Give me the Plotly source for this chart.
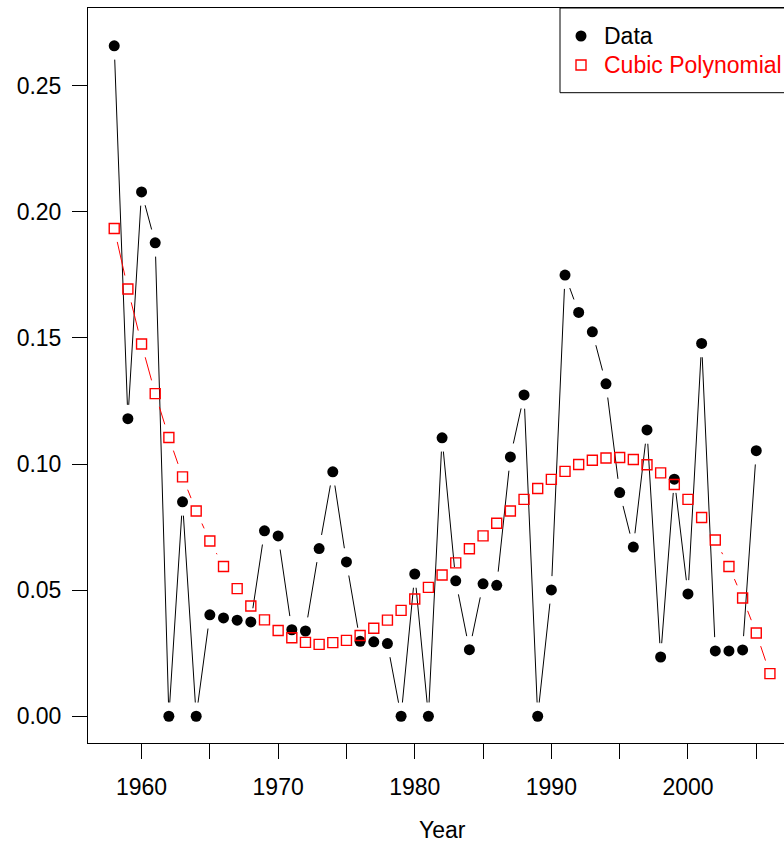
import math
import plotly.graph_objects as go

# ---- data ----
data_years = list(range(1958, 2006))
data_values = [0.2658, 0.1180, 0.2079, 0.1877, 0.0, 0.0850, 0.0, 0.0402, 0.0390, 0.0381,
               0.0374, 0.0735, 0.0715, 0.0343, 0.0338, 0.0665, 0.0969, 0.0612, 0.0297, 0.0295,
               0.0288, 0.0, 0.0564, 0.0, 0.1104, 0.0537, 0.0264, 0.0525, 0.0519, 0.1028,
               0.1274, 0.0, 0.0501, 0.1749, 0.1601, 0.1524, 0.1318, 0.0887, 0.0671, 0.1135,
               0.0235, 0.0940, 0.0485, 0.1478, 0.0259, 0.0259, 0.0263, 0.1053]
poly_years = list(range(1958, 2007))
poly_values = [0.1934, 0.1694, 0.1476, 0.1279, 0.1105, 0.0949, 0.0814, 0.0695, 0.0594, 0.0506,
               0.0437, 0.0382, 0.0340, 0.0311, 0.0293, 0.0285, 0.0292, 0.0301, 0.0320, 0.0349,
               0.0381, 0.0420, 0.0465, 0.0511, 0.0560, 0.0608, 0.0664, 0.0715, 0.0765, 0.0814,
               0.0860, 0.0903, 0.0939, 0.0971, 0.0998, 0.1015, 0.1024, 0.1026, 0.1018, 0.0997,
               0.0965, 0.0919, 0.0860, 0.0788, 0.0699, 0.0594, 0.0469, 0.0330, 0.0169]
x_tick_vals = [1960, 1965, 1970, 1975, 1980, 1985, 1990, 1995, 2000, 2005]
x_tick_text = ["1960", "", "1970", "", "1980", "", "1990", "", "2000", ""]
y_tick_vals = [0.00, 0.05, 0.10, 0.15, 0.20, 0.25]
y_tick_text = ["0.00", "0.05", "0.10", "0.15", "0.20", "0.25"]
legend_labels = ["Data", "Cubic Polynomial"]

# ---- layout geometry ----
W, H = 784, 844
ML, MR, MT, MB = 88, 0, 8, 101
XR = [1956.08, 2007.03]
YR = [-0.0106, 0.2808]
PW, PH = W - ML - MR, H - MT - MB
kx = PW / (XR[1] - XR[0])
ky = PH / (YR[1] - YR[0])
GAP = 13.8  # px gap around points (R type="b")


def gapped(xs, ys, gap=GAP):
    ox, oy = [], []
    for i in range(len(xs) - 1):
        dxp = (xs[i + 1] - xs[i]) * kx
        dyp = (ys[i + 1] - ys[i]) * ky
        d = math.hypot(dxp, dyp)
        if d <= 2 * gap:
            continue
        f = gap / d
        ox += [xs[i] + f * (xs[i + 1] - xs[i]), xs[i + 1] - f * (xs[i + 1] - xs[i]), None]
        oy += [ys[i] + f * (ys[i + 1] - ys[i]), ys[i + 1] - f * (ys[i + 1] - ys[i]), None]
    return ox, oy


FONT = "Liberation Sans, Arial, Helvetica, sans-serif"
fig = go.Figure()

lx, ly = gapped(data_years, data_values)
fig.add_trace(go.Scatter(x=lx, y=ly, mode="lines", line=dict(color="black", width=1),
                         hoverinfo="skip", showlegend=False))
px_, py_ = gapped(poly_years, poly_values)
fig.add_trace(go.Scatter(x=px_, y=py_, mode="lines", line=dict(color="#FF0000", width=1),
                         hoverinfo="skip", showlegend=False))
fig.add_trace(go.Scatter(x=data_years, y=data_values, mode="markers", name=legend_labels[0],
                         marker=dict(symbol="circle", size=11, color="black"),
                         showlegend=False, cliponaxis=False))
fig.add_trace(go.Scatter(x=poly_years, y=poly_values, mode="markers", name=legend_labels[1],
                         marker=dict(symbol="square-open", size=10, color="#FF0000",
                                     line=dict(color="#FF0000", width=1.4)),
                         showlegend=False, cliponaxis=False))


def pxx(p):
    return (p - ML) / PW


def pxy(p):
    return (MT + PH - p) / PH


# manual legend (cut off by the window edge as in the reference)
fig.add_shape(type="rect", xref="paper", yref="paper", x0=pxx(560), x1=1.1,
              y0=pxy(92.7), y1=1.0, line=dict(color="black", width=1), fillcolor="white",
              layer="above")
fig.add_shape(type="circle", xref="paper", yref="paper", xsizemode="pixel", ysizemode="pixel",
              xanchor=pxx(581), yanchor=pxy(36), x0=-5.5, x1=5.5, y0=-5.5, y1=5.5,
              fillcolor="black", line=dict(color="black", width=0), layer="above")
fig.add_shape(type="rect", xref="paper", yref="paper", xsizemode="pixel", ysizemode="pixel",
              xanchor=pxx(581), yanchor=pxy(65), x0=-5, x1=5, y0=-5, y1=5,
              fillcolor="rgba(0,0,0,0)", line=dict(color="#FF0000", width=1.4), layer="above")
fig.add_annotation(xref="paper", yref="paper", x=pxx(602), y=pxy(36), text=legend_labels[0],
                   showarrow=False, xanchor="left", yanchor="middle",
                   font=dict(family=FONT, size=23, color="black"))
fig.add_annotation(xref="paper", yref="paper", x=pxx(602), y=pxy(65), text=legend_labels[1],
                   showarrow=False, xanchor="left", yanchor="middle",
                   font=dict(family=FONT, size=23, color="#FF0000"))

# x-axis title centred on the full plot region
fig.add_annotation(xref="x", yref="paper", x=(XR[0] + 2007.92) / 2, y=pxy(830), text="Year",
                   showarrow=False, xanchor="center", yanchor="middle",
                   font=dict(family=FONT, size=23, color="black"))

fig.update_layout(
    width=W, height=H, margin=dict(l=ML, r=MR, t=MT, b=MB, pad=0),
    paper_bgcolor="white", plot_bgcolor="white",
    font=dict(family=FONT, size=23, color="black"),
    showlegend=False,
    xaxis=dict(range=XR, tickmode="array", tickvals=x_tick_vals, ticktext=x_tick_text,
               ticks="outside", ticklen=15, tickwidth=1, tickcolor="black",
               showline=True, linecolor="black", linewidth=1, mirror=True,
               showgrid=False, zeroline=False, ticklabelstandoff=8),
    yaxis=dict(range=YR, tickmode="array", tickvals=y_tick_vals, ticktext=y_tick_text,
               ticks="outside", ticklen=15, tickwidth=1, tickcolor="black",
               showline=True, linecolor="black", linewidth=1, mirror=False,
               showgrid=False, zeroline=False, ticklabelstandoff=6),
)

fig.write_html("out.html", config=dict(displayModeBar=False))
